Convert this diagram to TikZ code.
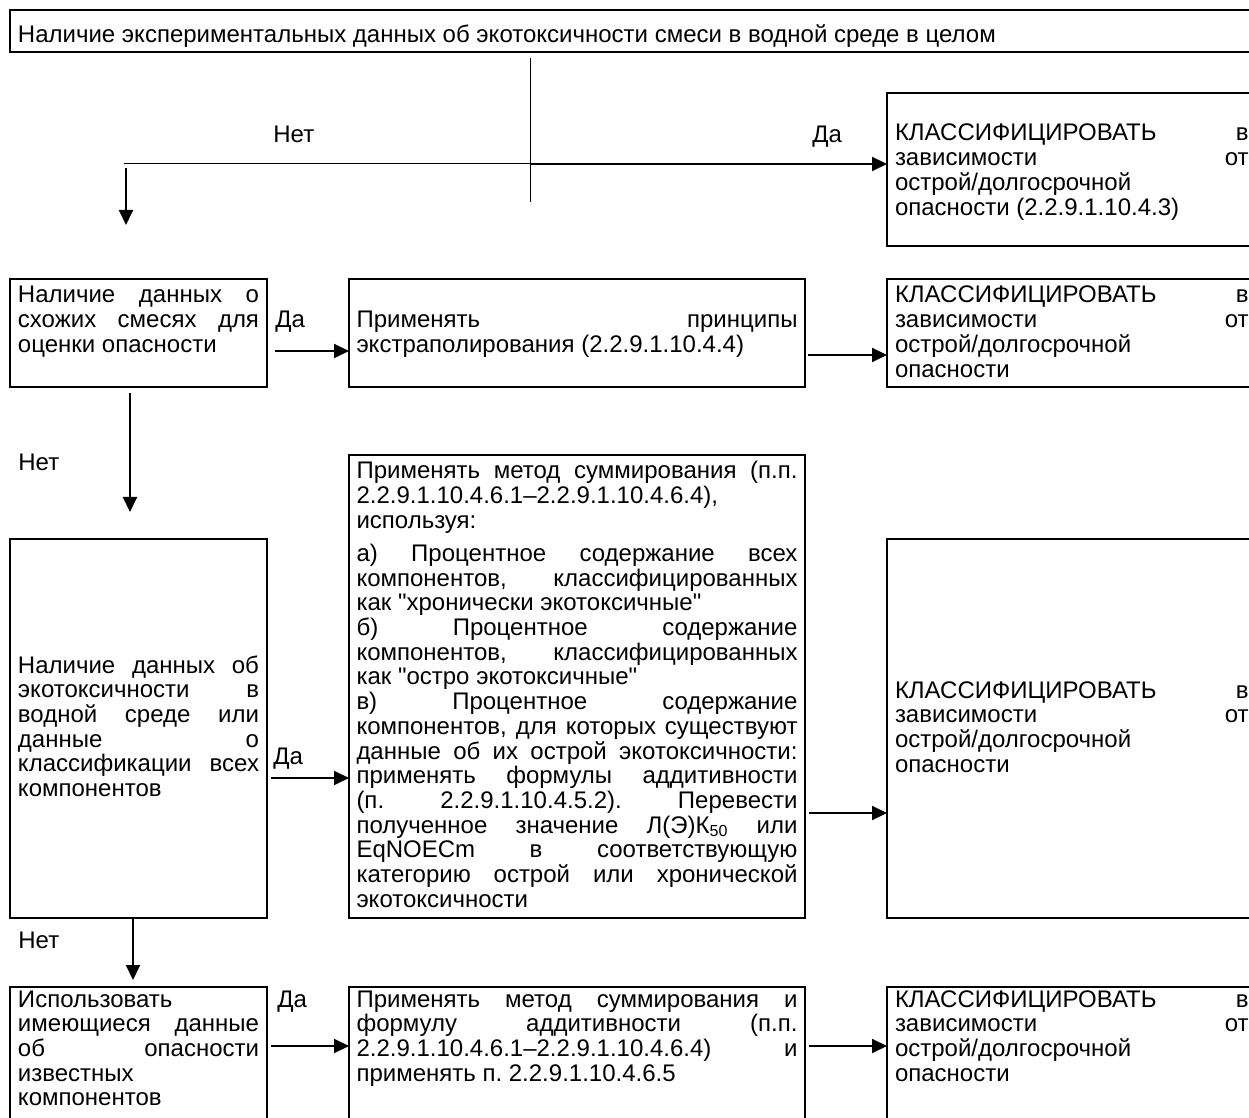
\documentclass[tikz,border=0pt]{standalone}
\usepackage{fontspec}
\setmainfont{Liberation Sans}
\usetikzlibrary{arrows.meta}
\hyphenpenalty=10000
\exhyphenpenalty=10000
\tolerance=10000
\hbadness=10000
\frenchspacing
\tikzset{
  blk/.style={draw, line width=0.9pt, rectangle, anchor=north west, inner ysep=0pt, outer sep=0pt, align=justify},
  lbox/.style={blk, inner xsep=4pt, text width=120.5pt},
  mbox/.style={blk, inner xsep=3.75pt, text width=220.5pt},
  rbox/.style={blk, inner xsep=4pt, text width=176.8pt},
  lbl/.style={anchor=base west, inner sep=0pt},
  arr/.style={line width=1pt, -{Triangle[length=7.5pt,width=7pt]}},
  ln/.style={line width=0.5pt}
}
\begin{document}
\begin{tikzpicture}[x=0.5pt, y=-0.5pt, every node/.style={font=\fontsize{12pt}{12.35pt}\selectfont}]
\useasboundingbox (0,0) rectangle (1249,1118);
\clip (0,0) rectangle (1249,1118);
% Top
\node[blk, inner xsep=4pt, text width=618pt, text height=16.5pt, text depth=4.5pt] (q0) at (10,10) {Наличие экспериментальных данных об экотоксичности смеси в водной среде в целом};
\coordinate (v0) at (530,58); % split top
\coordinate (v1) at (530,202); % split bottom
\coordinate (h0) at (124,164); % left end
\coordinate (d1) at (126,168);
\coordinate (e1) at (126,225);
\draw[ln] (v0) -- (v1);
\draw[ln] (h0) -- (h0 -| v0);
% Row 1
\node[rbox, text height=24pt, text depth=52.5pt] (r1) at (887,93) {КЛАССИФИЦИРОВАТЬ в\linebreak зависимости от\linebreak острой/долгосрочной\linebreak опасности (2.2.9.1.10.4.3)};
\draw[arr] (h0 -| v0) -- (h0 -| r1.west);
\draw[arr] (d1) -- (e1);
\node[lbl] (no1) at (273,143) {Нет};
\node[lbl] (yes1) at (812,143) {Да};
% Row 2
\node[lbox, text height=12pt, text depth=42pt] (l2) at (10,279) {Наличие данных о\linebreak схожих смесях для\linebreak оценки опасности};
\node[mbox, text height=24.35pt, text depth=29.65pt] (m2) at (349,279) {Применять принципы\linebreak экстраполирования (2.2.9.1.10.4.4)};
\node[rbox, text height=12pt, text depth=42pt] (r2) at (887,279) {КЛАССИФИЦИРОВАТЬ в\linebreak зависимости от\linebreak острой/долгосрочной\linebreak опасности};
\coordinate (a2) at (275,351);
\coordinate (b2) at (808,355);
\coordinate (d2) at (130,393);
\coordinate (e2) at (130,512);
\draw[arr] (a2) -- (a2 -| m2.west);
\draw[arr] (b2) -- (b2 -| r2.west);
\draw[arr] (d2) -- (e2);
\node[lbl] (yes2) at (275,328) {Да};
\node[lbl] (no2) at (18,471) {Нет};
% Row 3
\node[lbox, text height=67pt, text depth=122.5pt] (l3) at (10,539) {Наличие данных об\linebreak экотоксичности в\linebreak водной среде или\linebreak данные о\linebreak классификации всех\linebreak компонентов};
\node[mbox, text height=12pt, text depth=219.5pt] (m3) at (349,455) {Применять метод суммирования (п.п.\linebreak 2.2.9.1.10.4.6.1–2.2.9.1.10.4.6.4),\linebreak используя:\par\vspace{4.2pt}
а) Процентное содержание всех\linebreak компонентов, классифицированных\linebreak как \textquotedbl хронически экотоксичные\textquotedbl\par
б) Процентное содержание\linebreak компонентов, классифицированных\linebreak как \textquotedbl остро экотоксичные\textquotedbl\par
в) Процентное содержание\linebreak компонентов, для которых существуют\linebreak данные об их острой экотоксичности:\linebreak применять формулы аддитивности\linebreak (п. 2.2.9.1.10.4.5.2). Перевести\linebreak полученное значение Л(Э)К\textsubscript{50} или\linebreak EqNOECm в соответствующую\linebreak категорию острой или хронической\linebreak экотоксичности};
\node[rbox, text height=79.5pt, text depth=110pt] (r3) at (887,539) {КЛАССИФИЦИРОВАТЬ в\linebreak зависимости от\linebreak острой/долгосрочной\linebreak опасности};
\coordinate (a3) at (271,778);
\coordinate (b3) at (809,813);
\coordinate (e3) at (133,980);
\draw[arr] (a3) -- (a3 -| m3.west);
\draw[arr] (b3) -- (b3 -| r3.west);
\draw[arr] (l3.south -| e3) -- (e3);
\node[lbl] (yes3) at (273,764) {Да};
\node[lbl] (no3) at (18,948) {Нет};
% Row 4
\node[lbox, text height=10pt, text depth=70pt] (l4) at (10,987) {Использовать\linebreak имеющиеся данные\linebreak об опасности\linebreak известных\linebreak компонентов};
\node[mbox, text height=10pt, text depth=70pt] (m4) at (349,987) {Применять метод суммирования и\linebreak формулу аддитивности (п.п.\linebreak 2.2.9.1.10.4.6.1–2.2.9.1.10.4.6.4) и\linebreak применять п. 2.2.9.1.10.4.6.5};
\node[rbox, text height=10pt, text depth=70pt] (r4) at (887,987) {КЛАССИФИЦИРОВАТЬ в\linebreak зависимости от\linebreak острой/долгосрочной\linebreak опасности};
\coordinate (a4) at (271,1046);
\coordinate (b4) at (809,1046);
\draw[arr] (a4) -- (a4 -| m4.west);
\draw[arr] (b4) -- (b4 -| r4.west);
\node[lbl] (yes4) at (277,1007) {Да};
\end{tikzpicture}
\end{document}
